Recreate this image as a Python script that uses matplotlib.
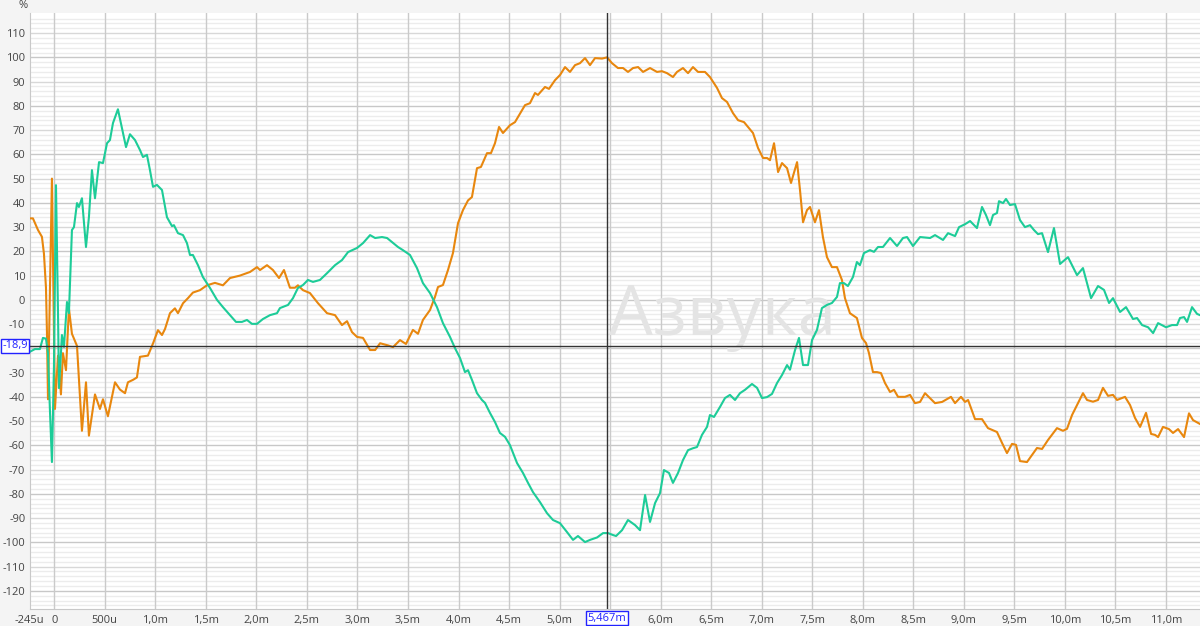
import matplotlib
matplotlib.use("Agg")
import matplotlib.pyplot as plt
import numpy as np

# time in ms, level in %
orangeT = [-0.245, -0.211, -0.161, -0.122, -0.102, -0.082, -0.072, -0.062, -0.023, 0.007,
           0.037, 0.066, 0.086, 0.116, 0.145, 0.175, 0.205, 0.225, 0.274, 0.314,
           0.343, 0.403, 0.452, 0.482, 0.531, 0.601, 0.650, 0.700, 0.729, 0.779,
           0.818, 0.848, 0.927, 0.977, 1.026, 1.066, 1.096, 1.145, 1.194, 1.224,
           1.274, 1.323, 1.372, 1.442, 1.511, 1.590, 1.669, 1.739, 1.837, 1.937,
           2.006, 2.036, 2.105, 2.164, 2.224, 2.273, 2.332, 2.382, 2.411, 2.461,
           2.530, 2.610, 2.699, 2.778, 2.847, 2.897, 2.946, 2.996, 3.055, 3.125,
           3.175, 3.224, 3.303, 3.352, 3.421, 3.480, 3.549, 3.599, 3.648, 3.718,
           3.767, 3.797, 3.846, 3.896, 3.945, 3.995, 4.044, 4.094, 4.133, 4.183,
           4.222, 4.282, 4.321, 4.361, 4.401, 4.440, 4.509, 4.559, 4.589, 4.658,
           4.707, 4.757, 4.786, 4.856, 4.895, 4.955, 5.004, 5.054, 5.103, 5.153,
           5.202, 5.252, 5.301, 5.351, 5.420, 5.470, 5.519, 5.578, 5.628, 5.677,
           5.727, 5.777, 5.826, 5.895, 5.964, 6.013, 6.063, 6.122, 6.162, 6.221,
           6.271, 6.320, 6.370, 6.439, 6.488, 6.558, 6.607, 6.657, 6.716, 6.766,
           6.825, 6.865, 6.914, 6.964, 7.013, 7.053, 7.082, 7.122, 7.162, 7.201,
           7.251, 7.290, 7.350, 7.379, 7.409, 7.448, 7.478, 7.527, 7.567, 7.606,
           7.646, 7.695, 7.745, 7.794, 7.824, 7.873, 7.942, 7.992, 8.032, 8.061,
           8.101, 8.141, 8.180, 8.220, 8.270, 8.309, 8.349, 8.418, 8.468, 8.517,
           8.567, 8.616, 8.715, 8.785, 8.873, 8.913, 8.972, 9.012, 9.042, 9.111,
           9.180, 9.239, 9.328, 9.378, 9.427, 9.477, 9.516, 9.556, 9.625, 9.675,
           9.724, 9.774, 9.833, 9.922, 9.981, 10.021, 10.071, 10.130, 10.179, 10.219,
           10.278, 10.328, 10.377, 10.427, 10.476, 10.516, 10.595, 10.645, 10.694, 10.744,
           10.803, 10.853, 10.892, 10.922, 10.971, 11.030, 11.070, 11.120, 11.179, 11.228,
           11.268, 11.337]
orangeV = [33.6, 33.6, 28.8, 26, 19, 5, -14, -41, 50, -45,
           -23, -39, -22, -29, -3.5, -14, -17, -19, -54, -34,
           -56, -39, -45, -41, -48, -34, -37, -38.5, -34, -33,
           -32, -23.5, -23, -18, -12.5, -14.5, -12, -5.5, -3.5, -5.5,
           -1.4, 0.7, 3, 4, 6, 7, 6, 9, 10, 11.5,
           13.5, 12.3, 14.3, 12.3, 9, 12.3, 5, 5, 6, 4,
           2.8, -1.4, -5.5, -6.3, -10.4, -8.8, -13.3, -15.3, -15.7, -20.7,
           -20.7, -17.9, -18.8, -19.5, -16.6, -18.2, -12.4, -14, -8.3, -4.2,
           1.2, 5.3, 6.1, 12.3, 19.3, 31.6, 37, 41, 42.4, 54.3,
           54.8, 60.5, 60.5, 64.6, 71.3, 68.8, 72, 73.3, 75.4, 80.3,
           81.1, 85.3, 84.5, 87.8, 87, 90.6, 92.7, 96, 94, 96.8,
           97.6, 99.7, 96.8, 99.7, 99.5, 100, 97.6, 95.6, 95.6, 94,
           95.6, 96, 94, 95.6, 94, 94.3, 93.5, 91.9, 94, 95.6,
           93.5, 96, 94, 94, 91.9, 87.4, 83.2, 81.6, 77, 74.1,
           73.3, 71.3, 68.8, 62.6, 58.5, 58.5, 57.6, 64.6, 52.7, 56.4,
           54.3, 48.2, 56.8, 45.3, 32, 37, 38.3, 32, 37, 25.9,
           17.6, 13.5, 13.5, 8.2, 0.7, -5.5, -7.5, -15.7, -17.8, -21.9,
           -29.8, -29.8, -30.2, -34.3, -38, -37.1, -40, -40, -39.2, -42.6,
           -42.1, -38.5, -42.6, -42.1, -40, -42.6, -40, -42.1, -41.3, -49.2,
           -49.2, -52.9, -54.5, -59, -63.2, -59.4, -59.8, -66.5, -66.9, -64,
           -61.1, -61.5, -57.8, -52.9, -54, -53.2, -47.5, -42.6, -38.5, -41.3,
           -42, -41.3, -36.3, -39.6, -39.2, -41.3, -40, -43.4, -48.7, -52.4,
           -46.6, -55.3, -55.7, -56.6, -52.4, -53.3, -54.9, -53.3, -56.6, -46.8,
           -49.6, -51.2]

tealT = [-0.245, -0.191, -0.142, -0.112, -0.082, -0.062, -0.043, -0.023, -0.003, 0.017,
         0.037, 0.047, 0.076, 0.096, 0.126, 0.145, 0.175, 0.195, 0.225, 0.244,
         0.274, 0.314, 0.343, 0.373, 0.403, 0.443, 0.482, 0.522, 0.551, 0.581,
         0.630, 0.670, 0.710, 0.749, 0.799, 0.848, 0.878, 0.917, 0.947, 0.977,
         1.016, 1.066, 1.115, 1.165, 1.184, 1.224, 1.274, 1.313, 1.343, 1.372,
         1.422, 1.471, 1.541, 1.610, 1.669, 1.739, 1.798, 1.857, 1.907, 1.956,
         2.006, 2.065, 2.135, 2.204, 2.233, 2.313, 2.362, 2.411, 2.461, 2.510,
         2.560, 2.629, 2.699, 2.778, 2.847, 2.907, 2.996, 3.055, 3.125, 3.175,
         3.243, 3.293, 3.342, 3.401, 3.450, 3.520, 3.589, 3.648, 3.718, 3.787,
         3.846, 3.916, 3.965, 4.015, 4.064, 4.094, 4.133, 4.183, 4.232, 4.262,
         4.311, 4.361, 4.410, 4.460, 4.509, 4.579, 4.638, 4.688, 4.737, 4.806,
         4.876, 4.935, 5.004, 5.074, 5.133, 5.182, 5.252, 5.301, 5.371, 5.430,
         5.480, 5.529, 5.559, 5.618, 5.677, 5.747, 5.796, 5.846, 5.895, 5.945,
         5.994, 6.033, 6.083, 6.122, 6.172, 6.221, 6.271, 6.320, 6.360, 6.409,
         6.459, 6.488, 6.528, 6.587, 6.637, 6.686, 6.736, 6.785, 6.835, 6.904,
         6.954, 7.003, 7.053, 7.102, 7.152, 7.201, 7.251, 7.280, 7.330, 7.369,
         7.409, 7.458, 7.498, 7.547, 7.596, 7.646, 7.695, 7.745, 7.774, 7.814,
         7.853, 7.903, 7.942, 7.972, 8.012, 8.071, 8.111, 8.151, 8.200, 8.270,
         8.339, 8.398, 8.438, 8.497, 8.567, 8.666, 8.715, 8.794, 8.844, 8.913,
         8.953, 9.012, 9.062, 9.130, 9.180, 9.219, 9.259, 9.289, 9.328, 9.348,
         9.388, 9.417, 9.457, 9.506, 9.556, 9.605, 9.655, 9.694, 9.734, 9.774,
         9.833, 9.892, 9.952, 10.031, 10.120, 10.179, 10.259, 10.328, 10.387, 10.437,
         10.476, 10.546, 10.605, 10.674, 10.714, 10.764, 10.823, 10.873, 10.922, 11.001,
         11.060, 11.110, 11.139, 11.179, 11.209, 11.258, 11.308, 11.337]
tealV = [-21.5, -20.3, -20.3, -15.7, -16, -22, -45.4, -66.9, -27.6, 47.3,
         -5.5, -36.4, -14.5, -19.4, -0.9, -5.5, 28.8, 30, 39.9, 38.3,
         41.9, 21.8, 34.1, 53.5, 41.9, 56.8, 56.4, 64.6, 65.9, 72.9,
         78.6, 70.8, 63, 68.3, 65.9, 61.8, 58.9, 59.8, 53.5, 46.6,
         47.4, 45.3, 34.1, 30.4, 30.8, 27.5, 26.7, 23.4, 18.5, 18.5,
         14.3, 9.4, 4.9, 0, -3, -6.3, -9.1, -9.1, -8.3, -9.9,
         -9.9, -7.9, -6.3, -5.5, -3.4, -2.1, 0.7, 4.9, 6.1, 8.2,
         7.4, 8.2, 11, 14.3, 16.4, 19.7, 21.4, 23.4, 26.7, 25.5,
         25.9, 25.5, 23.8, 21.8, 20.5, 18.5, 13.1, 6.9, 2.8, -3,
         -9.6, -15.3, -19.9, -24, -29.8, -29, -33, -38.5, -41.3, -42.5,
         -46.6, -50.4, -54.9, -56.5, -59.9, -67.3, -71.4, -75.5, -79.3, -83.4,
         -88, -90.8, -92.1, -95.8, -99, -97.4, -99.9, -99, -98, -96.2,
         -96.2, -97, -97.4, -95, -90.8, -92.9, -95, -80.5, -91.6, -83.8,
         -79.7, -70.2, -71.4, -75.5, -71.4, -66.1, -62, -61.2, -60.7, -55.7,
         -52.4, -47.5, -48.3, -44.2, -40.5, -39.2, -41.3, -38.5, -37.1, -34.7,
         -36.3, -40.5, -40.1, -38.8, -34.3, -31, -26.9, -28.8, -20.7, -15.7,
         -26.9, -26.9, -16.6, -12.4, -3.4, -2.1, -1.3, 1.2, 6.9, 6.9,
         5.7, 9.4, 15.6, 14.3, 19.3, 20.5, 19.8, 21.8, 21.8, 25.5,
         22.2, 25.5, 25.9, 22.2, 25.9, 25.5, 26.7, 24.7, 27.5, 26.3,
         30, 31.2, 32.5, 29.6, 38.3, 35, 30.8, 35, 35.8, 40.7,
         39.9, 41.6, 39.1, 39.5, 32.9, 30, 30.8, 28.8, 27.1, 27.5,
         19.7, 29.6, 14.8, 17.6, 10.2, 13.1, 0.7, 5.7, 4.1, -1.3,
         0.7, -5, -3, -7.9, -7.5, -10.4, -11.3, -13.7, -9.6, -11.3,
         -10.4, -10.4, -7.5, -7.1, -9.1, -3, -5.8, -6.3]

# the cursor readouts cover the 5,5m and -20 labels
xTicks = [-0.245, 0, 0.5, 1.0, 1.5, 2.0, 2.5, 3.0, 3.5, 4.0, 4.5, 5.0,
          6.0, 6.5, 7.0, 7.5, 8.0, 8.5, 9.0, 9.5, 10.0, 10.5, 11.0]
xLabels = ["-245u", "0", "500u", "1,0m", "1,5m", "2,0m", "2,5m", "3,0m", "3,5m", "4,0m",
           "4,5m", "5,0m", "6,0m", "6,5m", "7,0m", "7,5m", "8,0m", "8,5m", "9,0m",
           "9,5m", "10,0m", "10,5m", "11,0m"]
yTicks = [v for v in range(-120, 111, 10) if v != -20]
cursorT = 5.467
cursorV = -18.9

plt.rcParams['font.family'] = ['Open Sans', 'DejaVu Sans']

fig = plt.figure(figsize=(12, 6.26), dpi=100)
fig.patch.set_facecolor("#f4f4f4")
ax = fig.add_axes([29.5 / 1200, 17 / 626, 1170.5 / 1200, 596 / 626])
ax.set_facecolor("white")
ax.set_xlim(-0.245, 11.337)
ax.set_ylim(-127.5, 118.3)

# grid
for v in np.arange(-126, 118, 2):
    if v % 20 == 0:
        c = "#c8c8c8"
    elif v % 10 == 0:
        c = "#d8d8d8"
    else:
        c = "#ececec"
    ax.axhline(v, color=c, lw=1, zorder=0)
for t in np.arange(0, 11.4, 0.5):
    ax.axvline(t, color="#cacaca", lw=1, zorder=0)

ax.plot(orangeT, orangeV, color="#e8870e", lw=1.5, zorder=3)
ax.plot(tealT, tealV, color="#1dcc98", lw=1.5, zorder=3)

# cursor
ax.axvline(cursorT, color="#333333", lw=1, zorder=4)
ax.axhline(cursorV, color="#333333", lw=1, zorder=4)

ax.text(0.592, 0.46, "Азвука", transform=ax.transAxes, fontsize=50,
        color="#e4e4e4", ha="center", va="baseline", zorder=2)

ax.set_xticks(xTicks)
ax.set_xticklabels(xLabels)
ax.set_yticks(yTicks)
ax.set_yticklabels([str(v) for v in yTicks])
ax.tick_params(length=0, labelsize=8, colors="#444444")
ax.tick_params(axis="x", pad=4)
ax.tick_params(axis="y", pad=3)
for s in ax.spines.values():
    s.set_color("#c8c8c8")
ax.spines["top"].set_visible(False)
ax.spines["right"].set_visible(False)

box = dict(boxstyle="square,pad=0.15", fc="white", ec="#2222ff", lw=1)
ax.text(-0.0015, cursorV, "-18,9", transform=ax.get_yaxis_transform(), ha="right",
        va="center", fontsize=8, color="#2222ff", bbox=box, zorder=5, clip_on=False)
ax.text(cursorT, -0.006, "5,467m", transform=ax.get_xaxis_transform(), ha="center",
        va="top", fontsize=8, color="#2222ff", bbox=box, zorder=5, clip_on=False)

fig.text(23 / 1200, 1 - 6 / 626, "%", fontsize=8, color="#444444", ha="center", va="center")

fig.savefig("out.png", dpi=100, facecolor=fig.get_facecolor())
